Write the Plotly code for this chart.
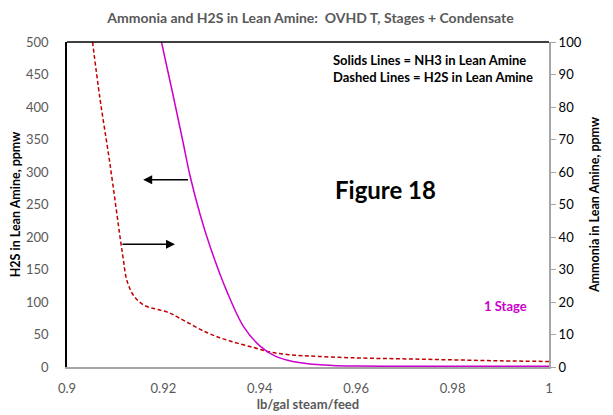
import plotly.graph_objects as go

# H2S in lean amine (dashed, left axis)
x_h2s = [0.9053, 0.9068, 0.9089, 0.9111, 0.9117, 0.9122, 0.9128, 0.9140, 0.9160, 0.9185,
         0.9210, 0.9234, 0.9290, 0.9338, 0.9387, 0.9421, 0.9460, 0.9500, 0.9600, 0.9700,
         0.9800, 0.9900, 1.0]
h2s = [500, 415, 313, 195, 165, 140, 125, 108, 95, 89,
       84, 75, 53, 40, 30, 23, 19, 17, 14, 12.5,
       11, 9.5, 8.5]

# NH3 in lean amine (solid, right axis)
x_nh3 = [0.9196, 0.9221, 0.9241, 0.9255, 0.9276, 0.9297, 0.9331, 0.9366, 0.9400, 0.9430,
         0.9460, 0.9500, 0.9550, 0.9600, 0.9700, 0.9800, 0.9900, 1.0]
nh3 = [100, 83, 69, 59, 47, 37, 23.5, 12.5, 6.5, 3.5,
       2, 1, 0.5, 0.3, 0.2, 0.2, 0.2, 0.2]

FONT = "Lato"
GREY = "#595959"

fig = go.Figure()
fig.add_trace(go.Scatter(x=x_h2s, y=h2s, mode="lines",
                         line=dict(color="#C00000", width=1.5, dash="4px,2.5px", shape="spline"),
                         showlegend=False))
fig.add_trace(go.Scatter(x=x_nh3, y=nh3, mode="lines", yaxis="y2",
                         line=dict(color="#CC00CC", width=1.5, shape="spline"),
                         showlegend=False))

# page body has an 8px margin, so the figure is sized a little smaller
fig.update_layout(
    width=605, height=407,
    margin=dict(l=59, r=64, t=34, b=48, autoexpand=False),
    paper_bgcolor="white", plot_bgcolor="white",
    font=dict(family=FONT, color=GREY, size=13),
    title=dict(text="<b>Ammonia and H2S in Lean Amine:  OVHD T, Stages + Condensate</b>",
               x=0.50, xanchor="center", y=0.975, yanchor="middle", font=dict(size=14, color=GREY)),
    xaxis=dict(range=[0.9, 1.0], tickvals=[0.9, 0.92, 0.94, 0.96, 0.98, 1.0],
               ticktext=["0.9", "0.92", "0.94", "0.96", "0.98", "1"],
               showgrid=False, zeroline=False, showline=True, linecolor="#A6A6A6", linewidth=2,
               ticks="", ticklabelstandoff=8, tickfont=dict(size=13, color=GREY),
               title=dict(text="<b>lb/gal steam/feed</b>", font=dict(size=13, color=GREY), standoff=3)),
    yaxis=dict(range=[0, 500], dtick=50, showgrid=False, zeroline=False, showline=True,
               linecolor="black", linewidth=1.5, ticks="", ticklabelstandoff=14,
               tickfont=dict(size=13, color=GREY),
               title=dict(text="<b>H2S in Lean Amine, ppmw</b>", font=dict(size=12.5, color="black"), standoff=8)),
    yaxis2=dict(range=[0, 100], dtick=10, overlaying="y", side="right", showgrid=False, zeroline=False,
                showline=True, linecolor="#A6A6A6", linewidth=2, ticks="outside", ticklen=5,
                tickcolor="#A6A6A6", tickfont=dict(size=13, color="black"),
                title=dict(text="<b>Ammonia in Lean Amine, ppmw</b>", font=dict(size=12.5, color="black"), standoff=10)),
)

# top frame line
fig.add_shape(type="line", xref="paper", yref="paper", x0=0, x1=1, y0=1, y1=1,
              line=dict(color="black", width=1.5))

fig.add_annotation(xref="paper", yref="paper", x=0.548, y=0.975, xanchor="left", yanchor="top", align="left",
                   text="<b>Solids Lines = NH3 in Lean Amine<br>Dashed Lines = H2S in Lean Amine</b>",
                   showarrow=False, font=dict(size=13, color="black"))
fig.add_annotation(xref="x", yref="y", x=0.9660, y=273, text="<b>Figure 18</b>", showarrow=False,
                   font=dict(size=24, color="black"))
fig.add_annotation(xref="x", yref="y", x=0.9910, y=94, text="<b>1 Stage</b>", showarrow=False,
                   font=dict(size=13, color="#CC00CC"))

# arrows
fig.add_annotation(xref="x", yref="y", x=0.9158, y=288, ax=0.9254, ay=288, axref="x", ayref="y",
                   text="", showarrow=True, arrowhead=2, arrowsize=1.2, arrowwidth=1.5, arrowcolor="black")
fig.add_annotation(xref="x", yref="y", x=0.9224, y=189, ax=0.9112, ay=189, axref="x", ayref="y",
                   text="", showarrow=True, arrowhead=2, arrowsize=1.2, arrowwidth=1.5, arrowcolor="black")

fig.write_html("out.html")
